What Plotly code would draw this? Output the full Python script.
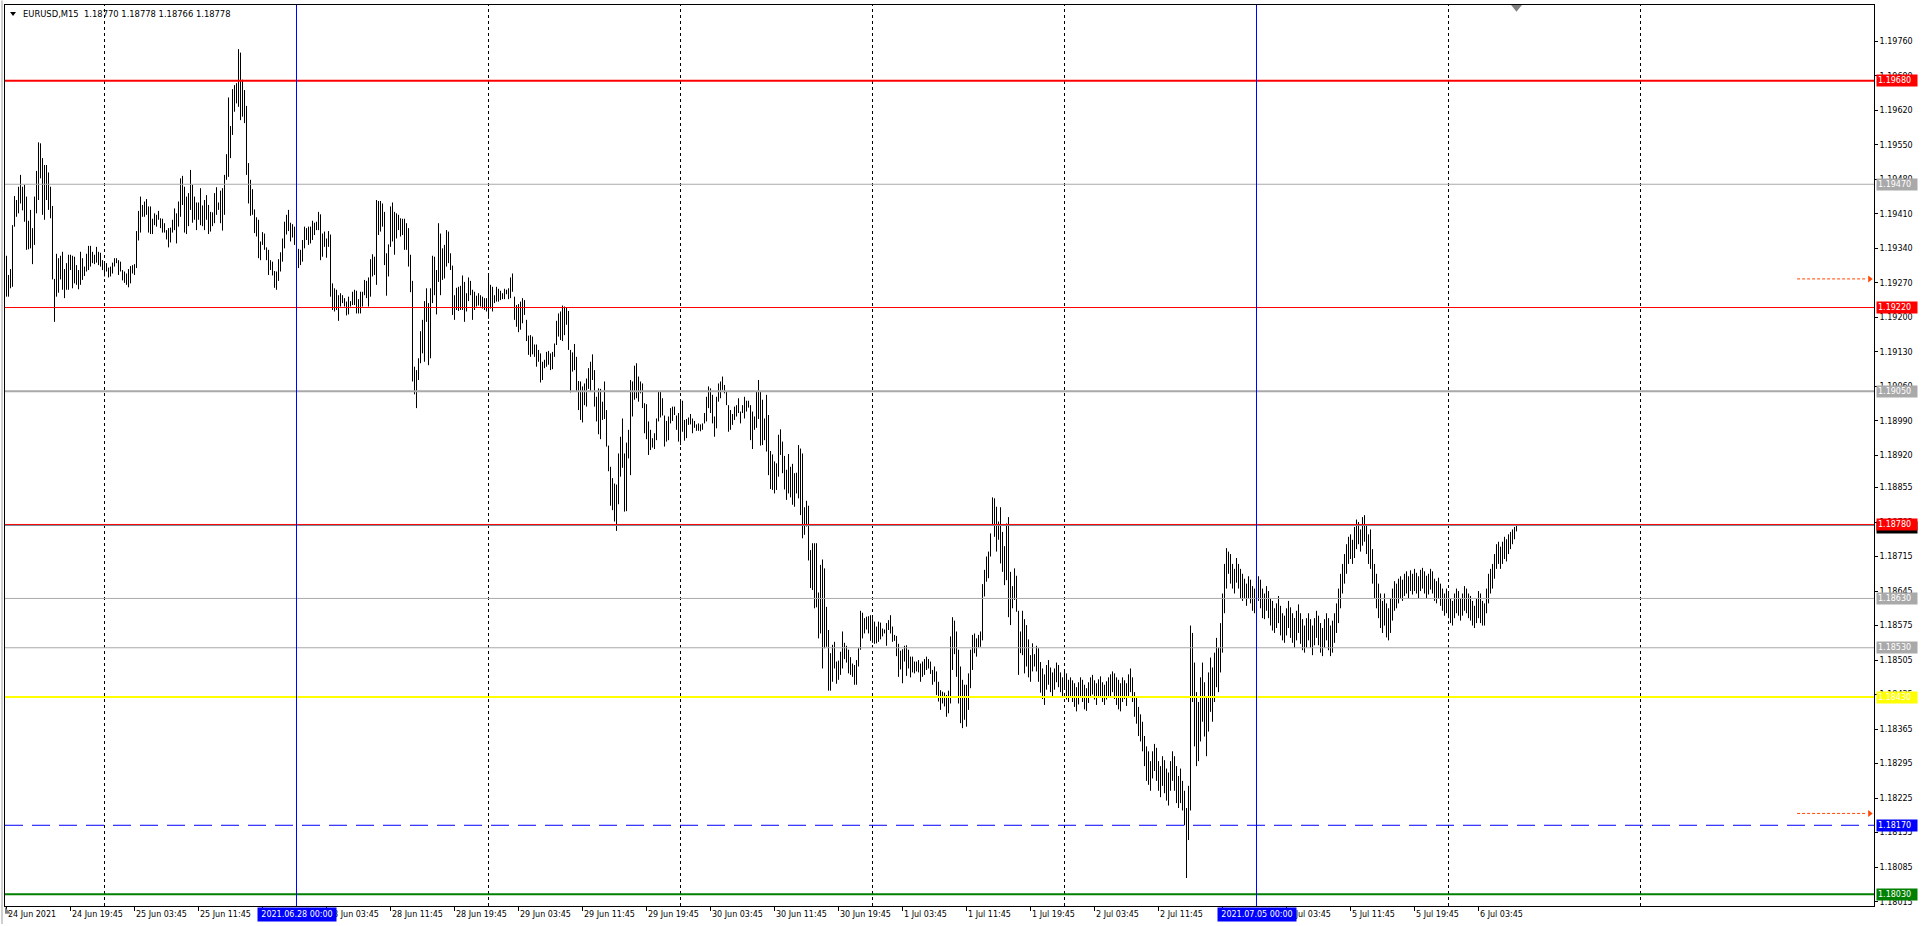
import plotly.graph_objects as go

# ---------------- data ----------------
TITLE_TEXT = "EURUSD,M15  1.18770 1.18778 1.18766 1.18778"

HIGH_A = [1.19325, 1.19286, 1.19298, 1.19387, 1.19446, 1.19438, 1.19465, 1.19489, 1.19465, 1.19469,
          1.19445, 1.19396, 1.19418, 1.19381, 1.19445, 1.19497, 1.19555, 1.19553, 1.19523, 1.19509,
          1.19509, 1.19494, 1.19465, 1.19426, 1.19278, 1.19329, 1.19320, 1.19325, 1.19333, 1.19298,
          1.19310, 1.19327, 1.19327, 1.19325, 1.19323, 1.19306, 1.19296, 1.19333, 1.19320, 1.19303,
          1.19329, 1.19345, 1.19345, 1.19333, 1.19327, 1.19343, 1.19333, 1.19331, 1.19316, 1.19313,
          1.19310, 1.19301, 1.19303, 1.19311, 1.19320, 1.19320, 1.19316, 1.19313, 1.19296, 1.19293,
          1.19289, 1.19298, 1.19304, 1.19306, 1.19308, 1.19375, 1.19416, 1.19445, 1.19428, 1.19435,
          1.19440, 1.19425, 1.19425, 1.19400, 1.19411, 1.19408, 1.19416, 1.19401, 1.19400, 1.19391,
          1.19377, 1.19381, 1.19382, 1.19398, 1.19421, 1.19411, 1.19435, 1.19482, 1.19487, 1.19465,
          1.19445, 1.19452, 1.19499, 1.19469, 1.19445, 1.19433, 1.19433, 1.19462, 1.19427, 1.19438,
          1.19448, 1.19428, 1.19414, 1.19413, 1.19452, 1.19464, 1.19433, 1.19457, 1.19462, 1.19489,
          1.19531, 1.19646, 1.19588, 1.19663, 1.19671, 1.19675, 1.19744, 1.19737, 1.19682, 1.19661,
          1.19629, 1.19513, 1.19479, 1.19460, 1.19419, 1.19403, 1.19398]
LOW_A = [1.19242, 1.19242, 1.19259, 1.19262, 1.19384, 1.19404, 1.19411, 1.19431, 1.19417, 1.19394,
         1.19337, 1.19338, 1.19340, 1.19308, 1.19347, 1.19411, 1.19438, 1.19482, 1.19408, 1.19398,
         1.19438, 1.19418, 1.19401, 1.19277, 1.19191, 1.19242, 1.19250, 1.19277, 1.19256, 1.19239,
         1.19256, 1.19256, 1.19296, 1.19259, 1.19269, 1.19266, 1.19257, 1.19266, 1.19276, 1.19284,
         1.19293, 1.19296, 1.19303, 1.19310, 1.19308, 1.19311, 1.19306, 1.19303, 1.19296, 1.19283,
         1.19293, 1.19281, 1.19283, 1.19289, 1.19303, 1.19310, 1.19286, 1.19293, 1.19275, 1.19270,
         1.19266, 1.19261, 1.19269, 1.19289, 1.19286, 1.19300, 1.19356, 1.19372, 1.19404, 1.19404,
         1.19408, 1.19372, 1.19369, 1.19369, 1.19387, 1.19384, 1.19398, 1.19381, 1.19372, 1.19372,
         1.19358, 1.19342, 1.19352, 1.19372, 1.19377, 1.19350, 1.19384, 1.19404, 1.19428, 1.19372,
         1.19369, 1.19385, 1.19418, 1.19392, 1.19398, 1.19377, 1.19398, 1.19387, 1.19385, 1.19377,
         1.19398, 1.19369, 1.19374, 1.19385, 1.19391, 1.19408, 1.19418, 1.19391, 1.19376, 1.19408,
         1.19479, 1.19485, 1.19523, 1.19570, 1.19617, 1.19634, 1.19627, 1.19600, 1.19607, 1.19594,
         1.19489, 1.19431, 1.19406, 1.19408, 1.19371, 1.19364, 1.19320]

HIGH_B = [1.19354, 1.19373, 1.19370, 1.19342, 1.19337, 1.19316, 1.19313, 1.19294, 1.19293, 1.19318,
          1.19332, 1.19360, 1.19394, 1.19408, 1.19418, 1.19392, 1.19389, 1.19384, 1.19367, 1.19339,
          1.19337, 1.19357, 1.19384, 1.19381, 1.19384, 1.19384, 1.19396, 1.19392, 1.19394, 1.19414,
          1.19409, 1.19370, 1.19374, 1.19360, 1.19375, 1.19368, 1.19269, 1.19259, 1.19256, 1.19245,
          1.19249, 1.19245, 1.19239, 1.19232, 1.19242, 1.19233, 1.19252, 1.19256, 1.19254, 1.19237,
          1.19252, 1.19252, 1.19276, 1.19274, 1.19281, 1.19318, 1.19328, 1.19323, 1.19438, 1.19436,
          1.19436, 1.19431, 1.19414, 1.19330, 1.19348, 1.19425, 1.19433, 1.19414, 1.19411, 1.19408,
          1.19401, 1.19400, 1.19400, 1.19391, 1.19381, 1.19327, 1.19274, 1.19100, 1.19093, 1.19117,
          1.19172, 1.19195, 1.19233, 1.19259, 1.19229, 1.19259, 1.19325, 1.19323, 1.19296, 1.19391,
          1.19370, 1.19340, 1.19347, 1.19377, 1.19374, 1.19330, 1.19305, 1.19245, 1.19260, 1.19262,
          1.19264, 1.19285, 1.19272, 1.19249, 1.19281, 1.19274, 1.19256, 1.19252, 1.19244, 1.19249,
          1.19245, 1.19242, 1.19239, 1.19239, 1.19287, 1.19266, 1.19262, 1.19245, 1.19262, 1.19258,
          1.19254, 1.19249, 1.19258, 1.19256, 1.19259, 1.19281, 1.19289, 1.19242, 1.19225, 1.19227]
LOW_B = [1.19316, 1.19347, 1.19337, 1.19316, 1.19286, 1.19296, 1.19285, 1.19260, 1.19256, 1.19274,
         1.19293, 1.19313, 1.19340, 1.19368, 1.19375, 1.19354, 1.19362, 1.19347, 1.19340, 1.19300,
         1.19306, 1.19313, 1.19340, 1.19357, 1.19347, 1.19350, 1.19357, 1.19367, 1.19377, 1.19377,
         1.19316, 1.19323, 1.19343, 1.19321, 1.19343, 1.19242, 1.19215, 1.19212, 1.19215, 1.19193,
         1.19222, 1.19229, 1.19222, 1.19204, 1.19206, 1.19222, 1.19225, 1.19225, 1.19208, 1.19208,
         1.19208, 1.19222, 1.19245, 1.19239, 1.19222, 1.19242, 1.19283, 1.19286, 1.19266, 1.19367,
         1.19374, 1.19384, 1.19306, 1.19244, 1.19283, 1.19343, 1.19354, 1.19327, 1.19360, 1.19377,
         1.19364, 1.19367, 1.19337, 1.19337, 1.19303, 1.19251, 1.19070, 1.19044, 1.19016, 1.19073,
         1.19107, 1.19127, 1.19110, 1.19191, 1.19103, 1.19117, 1.19229, 1.19245, 1.19206, 1.19272,
         1.19245, 1.19276, 1.19279, 1.19303, 1.19310, 1.19296, 1.19205, 1.19195, 1.19215, 1.19213,
         1.19215, 1.19215, 1.19191, 1.19212, 1.19233, 1.19245, 1.19195, 1.19215, 1.19222, 1.19224,
         1.19222, 1.19218, 1.19215, 1.19212, 1.19197, 1.19218, 1.19212, 1.19229, 1.19232, 1.19232,
         1.19235, 1.19237, 1.19237, 1.19247, 1.19237, 1.19239, 1.19252, 1.19195, 1.19181, 1.19170]

HIGH_C = [1.19232, 1.19239, 1.19235, 1.19195, 1.19163, 1.19164, 1.19161, 1.19145, 1.19145, 1.19134,
          1.19127, 1.19110, 1.19114, 1.19130, 1.19132, 1.19127, 1.19130, 1.19147, 1.19193, 1.19208,
          1.19212, 1.19224, 1.19222, 1.19220, 1.19213, 1.19134, 1.19129, 1.19146, 1.19120, 1.19071,
          1.19070, 1.19060, 1.19066, 1.19076, 1.19097, 1.19110, 1.19125, 1.19093, 1.19039, 1.19056,
          1.19055, 1.19029, 1.19070, 1.19012, 1.18940, 1.18897, 1.18874, 1.18863, 1.18861, 1.18924,
          1.18958, 1.18995, 1.18924, 1.18946, 1.18972, 1.19073, 1.19070, 1.19102, 1.19107, 1.19080,
          1.19070, 1.19066, 1.19026, 1.19024, 1.18989, 1.18972, 1.18955, 1.18965, 1.18995, 1.19049,
          1.19049, 1.19036, 1.19001, 1.18990, 1.18999, 1.19016, 1.19019, 1.19019, 1.19001, 1.19006,
          1.19029, 1.19031, 1.18992, 1.18994, 1.18997, 1.19004, 1.18995, 1.18990, 1.18983, 1.18985,
          1.18983, 1.18985, 1.19006, 1.19039, 1.19060, 1.19056, 1.19043, 1.18999, 1.19039, 1.19066,
          1.19070, 1.19080, 1.19063, 1.19049, 1.19022, 1.19012, 1.19004, 1.19019, 1.19022, 1.19036,
          1.19009, 1.19022, 1.19039, 1.19031, 1.19031, 1.19022, 1.19009, 1.18999, 1.19049, 1.19073,
          1.19049, 1.19033, 1.18995, 1.19043, 1.19002, 1.18929, 1.18922, 1.18908, 1.18904, 1.18962]
LOW_C = [1.19175, 1.19188, 1.19205, 1.19152, 1.19124, 1.19120, 1.19125, 1.19120, 1.19100, 1.19110,
         1.19068, 1.19073, 1.19097, 1.19100, 1.19104, 1.19093, 1.19095, 1.19120, 1.19144, 1.19161,
         1.19154, 1.19152, 1.19164, 1.19185, 1.19134, 1.19048, 1.19090, 1.19093, 1.19049, 1.19012,
         1.18992, 1.18987, 1.19022, 1.19019, 1.19055, 1.19049, 1.19073, 1.19019, 1.18989, 1.18963,
         1.18953, 1.18992, 1.18994, 1.18938, 1.18888, 1.18818, 1.18809, 1.18786, 1.18767, 1.18821,
         1.18877, 1.18895, 1.18806, 1.18807, 1.18914, 1.18880, 1.18999, 1.19033, 1.19036, 1.19029,
         1.19046, 1.19016, 1.18965, 1.18953, 1.18921, 1.18931, 1.18936, 1.18933, 1.18951, 1.18989,
         1.18997, 1.19001, 1.18938, 1.18948, 1.18951, 1.18985, 1.18990, 1.19002, 1.18972, 1.18948,
         1.18941, 1.18968, 1.18950, 1.18955, 1.18982, 1.18983, 1.18965, 1.18976, 1.18970, 1.18970,
         1.18969, 1.18972, 1.18985, 1.18989, 1.19016, 1.19006, 1.18985, 1.18958, 1.18975, 1.19029,
         1.19036, 1.19053, 1.19046, 1.19022, 1.18968, 1.18972, 1.18982, 1.18992, 1.18999, 1.19006,
         1.18985, 1.19006, 1.18995, 1.19009, 1.19017, 1.18951, 1.18933, 1.18972, 1.18976, 1.18994,
         1.18940, 1.18941, 1.18951, 1.18928, 1.18880, 1.18852, 1.18850, 1.18843, 1.18850, 1.18877]

HIGH_D = [1.18973, 1.18948, 1.18919, 1.18891, 1.18923, 1.18897, 1.18903, 1.18884, 1.18885, 1.18941,
          1.18934, 1.18924, 1.18815, 1.18828, 1.18818, 1.18728, 1.18742, 1.18742, 1.18742, 1.18642,
          1.18698, 1.18709, 1.18691, 1.18613, 1.18566, 1.18519, 1.18536, 1.18542, 1.18502, 1.18504,
          1.18522, 1.18563, 1.18540, 1.18534, 1.18526, 1.18511, 1.18498, 1.18495, 1.18505, 1.18529,
          1.18605, 1.18601, 1.18590, 1.18593, 1.18594, 1.18596, 1.18590, 1.18583, 1.18573, 1.18583,
          1.18581, 1.18569, 1.18567, 1.18580, 1.18586, 1.18596, 1.18573, 1.18556, 1.18554, 1.18538,
          1.18524, 1.18527, 1.18534, 1.18535, 1.18526, 1.18512, 1.18512, 1.18502, 1.18502, 1.18505,
          1.18498, 1.18502, 1.18507, 1.18512, 1.18507, 1.18502, 1.18485, 1.18492, 1.18482, 1.18461,
          1.18444, 1.18441, 1.18439, 1.18434, 1.18443, 1.18553, 1.18592, 1.18585, 1.18563, 1.18526,
          1.18492, 1.18465, 1.18455, 1.18455, 1.18478, 1.18526, 1.18556, 1.18559, 1.18549, 1.18556,
          1.18563, 1.18659, 1.18688, 1.18715, 1.18725, 1.18762, 1.18835, 1.18833, 1.18816, 1.18786,
          1.18815, 1.18765, 1.18736, 1.18782, 1.18795, 1.18684, 1.18655, 1.18691, 1.18676, 1.18605,
          1.18563, 1.18605, 1.18588, 1.18576, 1.18547, 1.18515, 1.18539, 1.18517, 1.18534, 1.18529]
LOW_D = [1.18921, 1.18884, 1.18851, 1.18830, 1.18843, 1.18835, 1.18820, 1.18816, 1.18843, 1.18833,
         1.18799, 1.18752, 1.18759, 1.18776, 1.18707, 1.18651, 1.18647, 1.18610, 1.18612, 1.18549,
         1.18559, 1.18488, 1.18529, 1.18532, 1.18443, 1.18443, 1.18461, 1.18488, 1.18457, 1.18465,
         1.18475, 1.18488, 1.18507, 1.18500, 1.18478, 1.18475, 1.18471, 1.18455, 1.18455, 1.18492,
         1.18526, 1.18549, 1.18559, 1.18567, 1.18559, 1.18544, 1.18540, 1.18538, 1.18539, 1.18542,
         1.18547, 1.18553, 1.18559, 1.18534, 1.18566, 1.18559, 1.18542, 1.18544, 1.18513, 1.18471,
         1.18486, 1.18458, 1.18502, 1.18473, 1.18488, 1.18470, 1.18480, 1.18478, 1.18482, 1.18480,
         1.18461, 1.18471, 1.18475, 1.18485, 1.18488, 1.18477, 1.18455, 1.18461, 1.18434, 1.18421,
         1.18404, 1.18417, 1.18411, 1.18390, 1.18397, 1.18417, 1.18485, 1.18517, 1.18471, 1.18417,
         1.18377, 1.18367, 1.18384, 1.18370, 1.18404, 1.18448, 1.18485, 1.18519, 1.18512, 1.18531,
         1.18532, 1.18545, 1.18634, 1.18664, 1.18671, 1.18715, 1.18779, 1.18755, 1.18725, 1.18749,
         1.18701, 1.18684, 1.18657, 1.18667, 1.18592, 1.18576, 1.18610, 1.18627, 1.18603, 1.18475,
         1.18519, 1.18515, 1.18478, 1.18492, 1.18470, 1.18461, 1.18482, 1.18492, 1.18482, 1.18461]

HIGH_E = [1.18501, 1.18488, 1.18476, 1.18495, 1.18505, 1.18490, 1.18480, 1.18488, 1.18500, 1.18495,
          1.18480, 1.18470, 1.18485, 1.18478, 1.18465, 1.18470, 1.18464, 1.18458, 1.18450, 1.18460,
          1.18470, 1.18465, 1.18455, 1.18448, 1.18460, 1.18470, 1.18475, 1.18464, 1.18458, 1.18466,
          1.18472, 1.18460, 1.18455, 1.18462, 1.18470, 1.18476, 1.18482, 1.18478, 1.18470, 1.18465,
          1.18458, 1.18470, 1.18464, 1.18458, 1.18476, 1.18488, 1.18470, 1.18440, 1.18430, 1.18410,
          1.18395, 1.18380, 1.18351, 1.18330, 1.18320, 1.18300, 1.18320, 1.18335, 1.18327, 1.18300,
          1.18290, 1.18310, 1.18302, 1.18285, 1.18277, 1.18300, 1.18320, 1.18310, 1.18290, 1.18270,
          1.18285, 1.18260, 1.18240, 1.18205, 1.18250, 1.18575, 1.18560, 1.18500, 1.18440, 1.18420,
          1.18470, 1.18500, 1.18460, 1.18430, 1.18480, 1.18510, 1.18490, 1.18520, 1.18550, 1.18530,
          1.18580, 1.18640, 1.18700, 1.18732, 1.18725, 1.18720, 1.18700, 1.18690, 1.18712, 1.18700,
          1.18690, 1.18680, 1.18670, 1.18660, 1.18675, 1.18668, 1.18655, 1.18650, 1.18662, 1.18675,
          1.18668, 1.18650, 1.18640, 1.18655, 1.18645, 1.18630, 1.18625, 1.18610, 1.18620, 1.18635,
          1.18615, 1.18600, 1.18595, 1.18610, 1.18625, 1.18612, 1.18600, 1.18590, 1.18605, 1.18618,
          1.18600, 1.18588, 1.18575, 1.18590, 1.18600, 1.18588, 1.18575, 1.18590, 1.18605, 1.18595,
          1.18580, 1.18570, 1.18588, 1.18600, 1.18590, 1.18575, 1.18585, 1.18600, 1.18620, 1.18650,
          1.18680, 1.18700, 1.18720, 1.18740, 1.18755, 1.18760, 1.18749, 1.18775, 1.18790, 1.18785,
          1.18770, 1.18795, 1.18799, 1.18780, 1.18760, 1.18770, 1.18730, 1.18700, 1.18680, 1.18660,
          1.18640, 1.18625, 1.18640, 1.18620, 1.18610, 1.18630, 1.18650, 1.18665, 1.18660, 1.18670,
          1.18675, 1.18668, 1.18680, 1.18685, 1.18675, 1.18687, 1.18680, 1.18690, 1.18682, 1.18675,
          1.18688, 1.18692, 1.18685, 1.18676, 1.18680, 1.18690, 1.18685, 1.18670, 1.18665, 1.18672,
          1.18660, 1.18650, 1.18640, 1.18650, 1.18645, 1.18630, 1.18625, 1.18640, 1.18650, 1.18645,
          1.18630, 1.18640, 1.18655, 1.18650, 1.18640, 1.18635, 1.18625, 1.18615, 1.18630, 1.18645,
          1.18640, 1.18625, 1.18620, 1.18650, 1.18680, 1.18690, 1.18700, 1.18720, 1.18740, 1.18745,
          1.18735, 1.18745, 1.18755, 1.18750, 1.18760, 1.18765, 1.18770, 1.18775, 1.18778]
LOW_E = [1.18439, 1.18426, 1.18414, 1.18445, 1.18455, 1.18440, 1.18430, 1.18445, 1.18460, 1.18450,
         1.18440, 1.18430, 1.18445, 1.18425, 1.18420, 1.18432, 1.18420, 1.18410, 1.18401, 1.18415,
         1.18428, 1.18420, 1.18405, 1.18402, 1.18418, 1.18430, 1.18435, 1.18425, 1.18414, 1.18428,
         1.18432, 1.18420, 1.18414, 1.18425, 1.18430, 1.18430, 1.18440, 1.18426, 1.18414, 1.18405,
         1.18401, 1.18420, 1.18426, 1.18412, 1.18430, 1.18440, 1.18420, 1.18390, 1.18376, 1.18351,
         1.18340, 1.18320, 1.18290, 1.18260, 1.18252, 1.18240, 1.18265, 1.18280, 1.18260, 1.18240,
         1.18227, 1.18250, 1.18235, 1.18220, 1.18210, 1.18240, 1.18260, 1.18240, 1.18215, 1.18205,
         1.18215, 1.18200, 1.18170, 1.18063, 1.18140, 1.18200, 1.18420, 1.18330, 1.18290, 1.18300,
         1.18340, 1.18380, 1.18350, 1.18310, 1.18360, 1.18400, 1.18380, 1.18420, 1.18450, 1.18440,
         1.18480, 1.18520, 1.18600, 1.18650, 1.18680, 1.18660, 1.18650, 1.18640, 1.18662, 1.18650,
         1.18630, 1.18625, 1.18630, 1.18615, 1.18630, 1.18620, 1.18605, 1.18600, 1.18615, 1.18625,
         1.18610, 1.18590, 1.18588, 1.18605, 1.18590, 1.18575, 1.18565, 1.18560, 1.18570, 1.18580,
         1.18555, 1.18545, 1.18540, 1.18555, 1.18570, 1.18550, 1.18540, 1.18530, 1.18545, 1.18560,
         1.18538, 1.18525, 1.18520, 1.18530, 1.18545, 1.18530, 1.18515, 1.18535, 1.18550, 1.18535,
         1.18520, 1.18513, 1.18530, 1.18545, 1.18525, 1.18513, 1.18520, 1.18540, 1.18560, 1.18580,
         1.18610, 1.18640, 1.18660, 1.18680, 1.18700, 1.18710, 1.18700, 1.18712, 1.18730, 1.18740,
         1.18725, 1.18737, 1.18745, 1.18720, 1.18700, 1.18690, 1.18660, 1.18630, 1.18610, 1.18590,
         1.18570, 1.18560, 1.18575, 1.18551, 1.18545, 1.18560, 1.18585, 1.18605, 1.18610, 1.18620,
         1.18630, 1.18625, 1.18635, 1.18640, 1.18630, 1.18645, 1.18638, 1.18645, 1.18640, 1.18630,
         1.18645, 1.18650, 1.18640, 1.18630, 1.18638, 1.18648, 1.18640, 1.18625, 1.18620, 1.18630,
         1.18615, 1.18605, 1.18595, 1.18600, 1.18590, 1.18580, 1.18575, 1.18590, 1.18600, 1.18595,
         1.18585, 1.18595, 1.18605, 1.18600, 1.18590, 1.18585, 1.18575, 1.18570, 1.18580, 1.18590,
         1.18580, 1.18575, 1.18575, 1.18600, 1.18620, 1.18640, 1.18650, 1.18670, 1.18690, 1.18700,
         1.18690, 1.18700, 1.18710, 1.18705, 1.18720, 1.18730, 1.18740, 1.18750, 1.18766]

HIGH = HIGH_A + HIGH_B + HIGH_C + HIGH_D + HIGH_E
LOW = LOW_A + LOW_B + LOW_C + LOW_D + LOW_E

X_TICK_BARS = [0, 32, 64, 96, 128, 160, 192, 224, 256, 288, 320, 352, 384, 416, 448, 480,
               512, 544, 576, 608, 640, 672, 704, 736]
# labels shown (the ones at bars 128 and 608 are fully covered by the highlighted dates)
X_LABEL_BARS = [0, 32, 64, 96, 160, 192, 224, 256, 288, 320, 352, 384, 416, 448, 480,
                512, 544, 576, 640, 672, 704, 736]
X_LABELS = ["24 Jun 2021", "24 Jun 19:45", "25 Jun 03:45", "25 Jun 11:45",
            "28 Jun 03:45", "28 Jun 11:45", "28 Jun 19:45", "29 Jun 03:45", "29 Jun 11:45",
            "29 Jun 19:45", "30 Jun 03:45", "30 Jun 11:45", "30 Jun 19:45", "1 Jul 03:45",
            "1 Jul 11:45", "1 Jul 19:45", "2 Jul 03:45", "2 Jul 11:45",
            "5 Jul 03:45", "5 Jul 11:45", "5 Jul 19:45", "6 Jul 03:45"]
Y_TICKS = [1.19760, 1.19690, 1.19620, 1.19550, 1.19480, 1.19410, 1.19340, 1.19270, 1.19200,
           1.19130, 1.19060, 1.18990, 1.18920, 1.18855, 1.18785, 1.18715, 1.18645, 1.18575,
           1.18505, 1.18435, 1.18365, 1.18295, 1.18225, 1.18155, 1.18085, 1.18015]

LEVEL_PRICES = [1.19680, 1.19470, 1.19220, 1.19050, 1.18780, 1.18630, 1.18530, 1.18430, 1.18170, 1.18030]
BID_PRICE = 1.18778
ALERT_PRICES = [1.19278, 1.18194]
VLINE_BARS = [145, 625]
VLINE_LABELS = ["2021.06.28 00:00", "2021.07.05 00:00"]
GRID_BARS = [49, 241, 337, 433, 529, 721, 817]

# ---------------- styles ----------------
RED, GRAY, YEL, BLUE, GREEN = "#FF0000", "#A9A9A9", "#FFFF00", "#0000FF", "#008000"
LEVEL_STYLES = [(RED, 2, "solid"), (GRAY, 1, "solid"), (RED, 1, "solid"), (GRAY, 2, "solid"),
                (RED, 1, "solid"), (GRAY, 1, "solid"), (GRAY, 1, "solid"), (YEL, 2, "solid"),
                (BLUE, 1, "18px,9px"), (GREEN, 2, "solid")]
FONT = "DejaVu Sans"
X_RANGE = [-0.75, 933.75]
Y_RANGE = [1.1800627, 1.1983352]

fig = go.Figure()

xs, ys = [], []
for i, (h, l) in enumerate(zip(HIGH, LOW)):
    xs += [i, i, None]
    ys += [l, h, None]
fig.add_trace(go.Scatter(x=xs, y=ys, mode="lines", line=dict(color="black", width=1),
                         hoverinfo="skip", showlegend=False))

for p in ALERT_PRICES:
    fig.add_trace(go.Scatter(x=[895.3, 930.3], y=[p, p], mode="lines",
                             line=dict(color="#FF4500", width=1, dash="3px,2px"),
                             hoverinfo="skip", showlegend=False))
    fig.add_trace(go.Scatter(x=[931.6], y=[p], mode="markers",
                             marker=dict(symbol="triangle-right", size=6, color="#FF4500"),
                             hoverinfo="skip", showlegend=False, cliponaxis=False))

shapes = []
for b in GRID_BARS:
    shapes.append(dict(type="line", xref="x", yref="paper", x0=b, x1=b, y0=0, y1=1,
                       line=dict(color="black", width=1, dash="3px,3px"), layer="below"))
for p, (c, w, d) in zip(LEVEL_PRICES, LEVEL_STYLES):
    shapes.append(dict(type="line", xref="paper", yref="y", x0=0, x1=1, y0=p, y1=p,
                       line=dict(color=c, width=w, dash=d), layer="above"))
shapes.append(dict(type="line", xref="paper", yref="y", x0=0, x1=1, y0=BID_PRICE, y1=BID_PRICE,
                   line=dict(color="#778899", width=1), layer="above"))
for b in VLINE_BARS:
    shapes.append(dict(type="line", xref="x", yref="paper", x0=b, x1=b, y0=0, y1=1,
                       line=dict(color=BLUE, width=1), layer="above"))
shapes.append(dict(type="path", xref="x", yref="paper", path="M 752.3,1 L 757.7,1 L 755,0.9925 Z",
                   fillcolor="#808080", line=dict(width=0)))
shapes.append(dict(type="path", xref="paper", yref="paper",
                   path="M 0.0027,0.9922 L 0.0059,0.9922 L 0.0043,0.9878 Z",
                   fillcolor="black", line=dict(width=0)))
shapes.append(dict(type="path", xref="paper", yref="paper",
                   path="M 0,-0.001 L 0,-0.0085 L 0.0032,-0.0085 Z",
                   fillcolor="#808080", line=dict(width=0)))
shapes.append(dict(type="line", xref="paper", yref="paper", x0=-0.0016, x1=-0.0016, y0=-0.02, y1=1.005,
                   line=dict(color="#A0A0A0", width=1)))

ann = []
ann.append(dict(xref="paper", yref="paper", x=0, y=1, xanchor="left", yanchor="middle",
                xshift=16, yshift=-9, text=TITLE_TEXT, showarrow=False,
                font=dict(family=FONT, size=8.4, color="black")))
for b, t in zip(X_LABEL_BARS, X_LABELS):
    ann.append(dict(xref="x", yref="paper", x=b, y=0, xanchor="left", yanchor="middle",
                    xshift=-1, yshift=-8, text=t, showarrow=False,
                    font=dict(family=FONT, size=8, color="black")))
for b, t in zip(VLINE_BARS, VLINE_LABELS):
    ann.append(dict(xref="x", yref="paper", x=b, y=0, xanchor="center", yanchor="middle",
                    yshift=-8, text=t, showarrow=False, bgcolor=BLUE, borderpad=1,
                    width=76, height=11, font=dict(family=FONT, size=8, color="white")))
ann.append(dict(xref="paper", yref="y", x=1, y=BID_PRICE, xanchor="left", yanchor="middle",
                xshift=2, yshift=-2, text=f"{BID_PRICE:.5f}", showarrow=False, bgcolor="black",
                borderpad=1, width=38, height=9, align="left",
                font=dict(family=FONT, size=8, color="white")))
for p, (c, w, d) in zip(LEVEL_PRICES, LEVEL_STYLES):
    ann.append(dict(xref="paper", yref="y", x=1, y=p, xanchor="left", yanchor="middle",
                    xshift=2, text=f"{p:.5f}", showarrow=False, bgcolor=c, borderpad=1,
                    width=38, height=9, align="left",
                    font=dict(family=FONT, size=8, color="white")))

fig.update_layout(
    width=1922, height=926,
    margin=dict(l=5, r=48, t=5, b=20, pad=0),
    paper_bgcolor="white", plot_bgcolor="white", showlegend=False,
    shapes=shapes, annotations=ann,
    xaxis=dict(range=X_RANGE, showgrid=False, zeroline=False, showline=True, mirror=True,
               linecolor="black", linewidth=1, tickvals=X_TICK_BARS, ticks="outside",
               ticklen=4, tickcolor="black", showticklabels=False, fixedrange=True),
    yaxis=dict(range=Y_RANGE, side="right", showgrid=False, zeroline=False, showline=True,
               mirror=True, linecolor="black", linewidth=1, tickvals=Y_TICKS,
               ticktext=[f"{v:.5f}" for v in Y_TICKS], ticks="outside", ticklen=3,
               tickcolor="black", tickfont=dict(family=FONT, size=8, color="black"),
               fixedrange=True),
)

fig.write_html("out.html", include_plotlyjs=True, full_html=True,
               config={"displayModeBar": False},
               post_script="document.body.style.margin='0';document.body.style.overflow='hidden';")
